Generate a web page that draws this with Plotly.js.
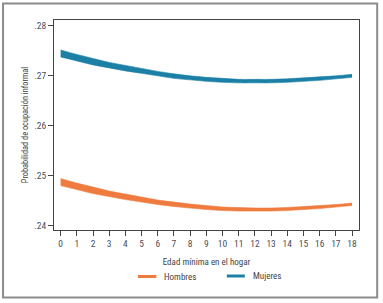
<!DOCTYPE html>
<html>
<head>
<meta charset="utf-8">
<script src="https://cdn.plot.ly/plotly-3.0.1.min.js"></script>
<style>
html,body{margin:0;padding:0;background:#fff;}
#chart{width:383px;height:303px;}
</style>
</head>
<body>
<div id="chart"></div>
<script>
// ---- data ----
var edad = [0,1,2,3,4,5,6,7,8,9,10,11,12,13,14,15,16,17,18];
var seriesNames = ["Hombres", "Mujeres"];
var hombresLow  = [0.2480,0.2472,0.2464,0.2458,0.2452,0.2447,0.2442,0.2438,0.2435,0.2432,0.2430,0.2429,0.2429,0.2429,0.2430,0.2432,0.2434,0.2437,0.2440];
var hombresHigh = [0.2494,0.2485,0.2477,0.2469,0.2463,0.2457,0.2451,0.2447,0.2443,0.2440,0.2437,0.2436,0.2435,0.2435,0.2436,0.2438,0.2440,0.2442,0.2445];
var mujeresLow  = [0.2738,0.2730,0.2722,0.2716,0.2710,0.2705,0.2700,0.2695,0.2692,0.2689,0.2687,0.2686,0.2686,0.2686,0.2687,0.2689,0.2691,0.2694,0.2697];
var mujeresHigh = [0.2752,0.2743,0.2735,0.2727,0.2721,0.2715,0.2709,0.2704,0.2700,0.2697,0.2695,0.2693,0.2693,0.2693,0.2694,0.2696,0.2698,0.2700,0.2703];
var yTickVals = [0.24,0.25,0.26,0.27,0.28];
var yTickText = [".24",".25",".26",".27",".28"];
var xTitle = "Edad mínima en el hogar";
var yTitle = "Probabilidad de ocupación informal";

var colHombres = "#ef7b3e";
var colMujeres = "#1b7fa6";
var font = "Roboto Condensed, Open Sans Condensed, DejaVu Sans Condensed, sans-serif";

function band(x, lo, hi, col, name){
  return [
    {x:x, y:lo, type:"scatter", mode:"lines", line:{color:col, width:0.6, shape:"spline"}, showlegend:false, hoverinfo:"skip", name:name},
    {x:x, y:hi, type:"scatter", mode:"lines", line:{color:col, width:0.6, shape:"spline"}, fill:"tonexty", fillcolor:col, showlegend:false, name:name}
  ];
}
var traces = band(edad, hombresLow, hombresHigh, colHombres, seriesNames[0])
  .concat(band(edad, mujeresLow, mujeresHigh, colMujeres, seriesNames[1]));

// plot area in px: left 54, right 359.3, top 20, bottom 230
var L=54, R=359.3, T=20, B=230, W=383, H=303;
function px(x){return (x-L)/(R-L);}
function py(y){return (B-y)/(B-T);}

var shapes = [
  {type:"rect", xref:"paper", yref:"paper", x0:px(3), x1:px(377.5), y0:py(297.5), y1:py(3.5), line:{color:"#8c8c8c", width:2}},
  {type:"line", xref:"paper", yref:"paper", x0:px(138), x1:px(156.5), y0:py(276.5), y1:py(276.5), line:{color:colHombres, width:3}},
  {type:"line", xref:"paper", yref:"paper", x0:px(227), x1:px(245), y0:py(276), y1:py(276), line:{color:colMujeres, width:3}}
];
var annotations = [
  {xref:"paper", yref:"paper", x:px(162), y:py(276.5), text:seriesNames[0], showarrow:false, xanchor:"left", yanchor:"middle", font:{family:font, size:9, color:"#444"}},
  {xref:"paper", yref:"paper", x:px(251), y:py(275.5), text:seriesNames[1], showarrow:false, xanchor:"left", yanchor:"middle", font:{family:font, size:9, color:"#444"}}
];

var layout = {
  width:W, height:H,
  margin:{l:L, r:W-R, t:T, b:H-B, pad:0},
  paper_bgcolor:"#fff", plot_bgcolor:"#fff",
  showlegend:false,
  font:{family:font, size:9, color:"#4a4f5a"},
  xaxis:{
    range:[-0.41,18.43], tickmode:"array", tickvals:edad, ticktext:edad.map(String),
    showgrid:false, zeroline:false, showline:true, mirror:true, linecolor:"#444", linewidth:1,
    ticks:"outside", ticklen:5, tickcolor:"#444", tickwidth:1,
    tickfont:{family:font, size:9.5, color:"#4a4f5a"},
    title:{text:xTitle, font:{family:font, size:9, color:"#444"}, standoff:10}
  },
  yaxis:{
    range:[0.2391,0.2812], tickmode:"array", tickvals:yTickVals, ticktext:yTickText,
    showgrid:false, zeroline:false, showline:true, mirror:true, linecolor:"#444", linewidth:1,
    ticks:"outside", ticklen:5, tickcolor:"#444", tickwidth:1,
    tickfont:{family:font, size:9.5, color:"#4a4f5a"},
    title:{text:yTitle, font:{family:font, size:8.3, color:"#444"}, standoff:4}
  },
  shapes:shapes,
  annotations:annotations
};
Plotly.newPlot("chart", traces, layout, {displayModeBar:false, staticPlot:true});
</script>
</body>
</html>
